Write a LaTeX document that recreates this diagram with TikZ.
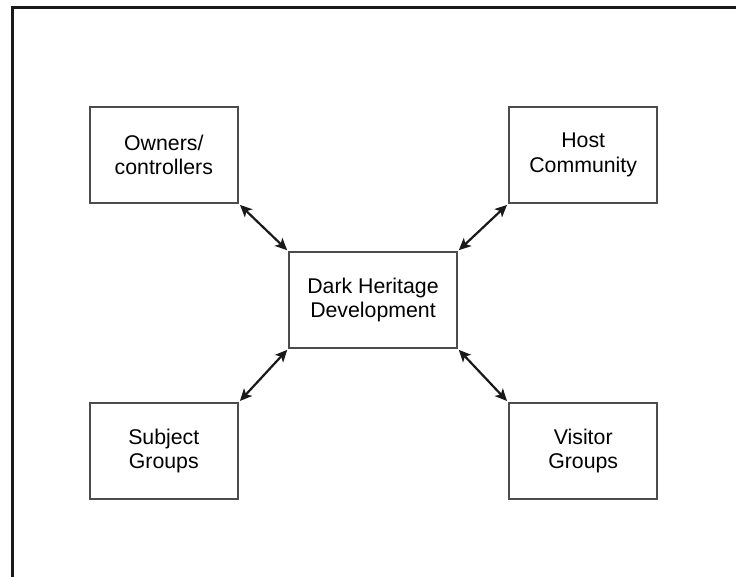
\documentclass[tikz,border=0pt]{standalone}
\usepackage{fontspec}
\setmainfont{Liberation Sans}
\usetikzlibrary{arrows.meta, positioning}

\begin{document}
\begin{tikzpicture}[
    x=1pt, y=-1pt,
    box/.style={rectangle, draw=black!70, line width=2.2pt, align=center, minimum width=148pt, minimum height=96pt, inner sep=0pt, fill=white, font=\fontsize{21.3}{24.5}\selectfont},
    hubbox/.style={box, minimum width=168pt},
    arrow/.style={{Stealth[length=12pt, width=11pt, inset=3pt]}-{Stealth[length=12pt, width=11pt, inset=3pt]}, line width=2.2pt, draw=black!90, shorten <=1.5pt, shorten >=1pt},
    frame/.style={line width=3pt, draw=black!90}
]
\useasboundingbox (0,0) rectangle (736,577);

% 1. Outer frame (open on the right and at the bottom)
\draw[frame] (12,577) |- (736,8);

% 2. Central node
\node[hubbox] (hub) at (373,300) {Dark Heritage\\ Development};

% 3. Stakeholder groups around it
\node[box, above left=47pt and 49pt of hub] (owners) {Owners/\\ controllers};
\node[box, above right=47pt and 50pt of hub] (host) {Host\\ Community};
\node[box, below left=53pt and 49pt of hub] (subject) {Subject\\ Groups};
\node[box, below right=53pt and 50pt of hub] (visitor) {Visitor\\ Groups};

% 4. Two-way links
\draw[arrow] (owners.south east) -- (hub.north west);
\draw[arrow] (host.south west) -- (hub.north east);
\draw[arrow] (subject.north east) -- (hub.south west);
\draw[arrow] (visitor.north west) -- (hub.south east);

\end{tikzpicture}
\end{document}
